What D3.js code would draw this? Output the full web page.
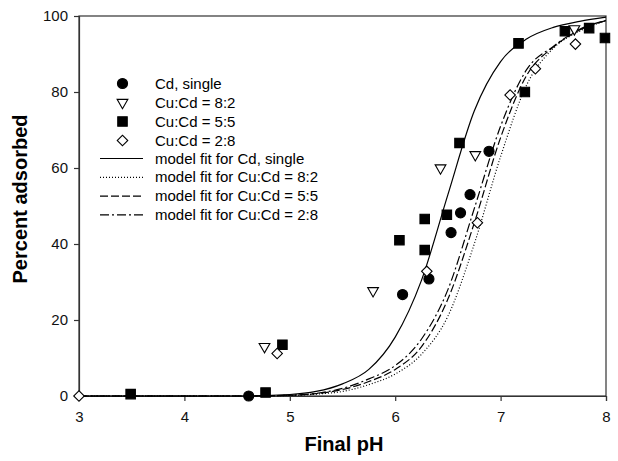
<!DOCTYPE html>
<html>
<head>
<meta charset="utf-8">
<script src="https://cdn.jsdelivr.net/npm/d3@7"></script>
<style>
  body { margin: 0; background: #fff; }
  text { font-family: "Liberation Sans", Arial, sans-serif; }
</style>
</head>
<body>
<script>
// measured points
const cdPH = [4.61, 6.07, 6.32, 6.53, 6.62, 6.71, 6.89];
const cdPct = [0, 26.7, 30.8, 43, 48.2, 53, 64.4];
const r82PH = [4.76, 5.79, 6.43, 6.76, 7.70];
const r82Pct = [13, 27.7, 60, 63.5, 96.6];
const r55PH = [3.49, 4.77, 4.93, 6.04, 6.28, 6.28, 6.49, 6.61, 7.17, 7.23, 7.61, 7.84, 7.99];
const r55Pct = [0.5, 0.9, 13.5, 41, 46.6, 38.4, 47.7, 66.6, 92.8, 80, 96, 96.8, 94.2];
const r28PH = [3.0, 4.88, 6.30, 6.78, 7.09, 7.33, 7.71];
const r28Pct = [0, 11.2, 32.8, 45.6, 79.2, 86.1, 92.6];

// model fits
const fitPH = [3.0, 4.5, 5.0, 5.25, 5.5, 5.75, 6.0, 6.25, 6.5, 6.75, 7.0, 7.25, 7.5, 7.75, 8.0];
const fitCd = [0, 0, 0.4, 1.2, 3.2, 7, 15.5, 30.5, 53, 75, 88, 94, 97, 98.6, 99.7];
const fit82 = [0, 0, 0.15, 0.5, 1.2, 3.0, 5.8, 11, 21, 40, 63, 82, 91.5, 96, 98.8];
const fit55 = [0, 0, 0.2, 0.6, 1.7, 3.8, 7, 13, 25.5, 45.5, 68, 84.5, 91.8, 96.3, 98.8];
const fit28 = [0, 0, 0.2, 0.7, 2.0, 4.5, 8, 15, 28, 49.3, 71, 86, 92, 96.5, 98.8];

const xTicks = [3, 4, 5, 6, 7, 8];
const yTicks = [0, 20, 40, 60, 80, 100];

const W = 618, H = 461;
const svg = d3.select("body").append("svg")
  .attr("width", W)
  .attr("height", H);

const x = d3.scaleLinear().domain([3, 8]).range([79, 606]);
const y = d3.scaleLinear().domain([0, 100]).range([396, 16]);

// frame
svg.append("rect")
  .attr("x", 79).attr("y", 16)
  .attr("width", 527).attr("height", 380)
  .style("fill", "none")
  .style("stroke", "#333")
  .style("stroke-width", 1.2);

const xAxis = svg.append("g")
  .attr("transform", "translate(0,396)")
  .call(d3.axisBottom(x).tickValues(xTicks).tickSize(5).tickPadding(10).tickFormat(d3.format("d")));
const yAxis = svg.append("g")
  .attr("transform", "translate(79,0)")
  .call(d3.axisLeft(y).tickValues(yTicks).tickSize(5).tickPadding(6).tickFormat(d3.format("d")));

[xAxis, yAxis].forEach(g => {
  g.select(".domain").style("stroke", "#333").style("stroke-width", 1.2);
  g.selectAll(".tick line").style("stroke", "#333").style("stroke-width", 1.2);
  g.selectAll(".tick text").style("font-size", "15px").style("fill", "#111")
    .style("font-family", "'Liberation Sans', Arial, sans-serif");
});

svg.append("text")
  .attr("x", 344).attr("y", 451)
  .attr("text-anchor", "middle")
  .style("font-size", "20px").style("font-weight", "bold")
  .text("Final pH");
svg.append("text")
  .attr("transform", "translate(27,199) rotate(-90)")
  .attr("text-anchor", "middle")
  .style("font-size", "20px").style("font-weight", "bold")
  .text("Percent adsorbed");

const fits = [
  { vals: fitCd, dash: null, label: "model fit for Cd, single" },
  { vals: fit82, dash: "1,2", label: "model fit for Cu:Cd = 8:2" },
  { vals: fit55, dash: "8,3", label: "model fit for Cu:Cd = 5:5" },
  { vals: fit28, dash: "9,3,2,3", label: "model fit for Cu:Cd = 2:8" },
];

const line = d3.line()
  .x(d => x(d[0]))
  .y(d => y(d[1]))
  .curve(d3.curveMonotoneX);

svg.selectAll("path.fit")
  .data(fits)
  .enter()
  .append("path")
  .attr("class", "fit")
  .attr("d", f => line(fitPH.map((p, i) => [p, f.vals[i]])))
  .style("fill", "none")
  .style("stroke", "#000")
  .style("stroke-width", 1.2)
  .style("stroke-dasharray", f => f.dash);

const series = [
  { ph: cdPH, pct: cdPct, type: d3.symbolCircle, size: 80, fill: "#000", rot: 0, label: "Cd, single" },
  { ph: r82PH, pct: r82Pct, type: d3.symbolTriangle, size: 50, fill: "#fff", rot: 180, label: "Cu:Cd = 8:2" },
  { ph: r55PH, pct: r55Pct, type: d3.symbolSquare, size: 90, fill: "#000", rot: 0, label: "Cu:Cd = 5:5" },
  { ph: r28PH, pct: r28Pct, type: d3.symbolSquare, size: 55, fill: "#fff", rot: 45, label: "Cu:Cd = 2:8" },
];

series.forEach(s => {
  svg.append("g").selectAll("path")
    .data(s.ph.map((p, i) => [p, s.pct[i]]))
    .enter()
    .append("path")
    .attr("d", d3.symbol().type(s.type).size(s.size))
    .attr("transform", d => `translate(${x(d[0])},${y(d[1])}) rotate(${s.rot})`)
    .style("fill", s.fill)
    .style("stroke", "#000")
    .style("stroke-width", 1.1);
});

// legend
const leg = svg.append("g");
series.forEach((s, i) => {
  const ly = 83.5 + i * 19;
  leg.append("path")
    .attr("d", d3.symbol().type(s.type).size(s.size)())
    .attr("transform", `translate(122.5,${ly}) rotate(${s.rot})`)
    .style("fill", s.fill)
    .style("stroke", "#000")
    .style("stroke-width", 1.1);
  leg.append("text")
    .attr("x", 155).attr("y", ly + 5)
    .style("font-size", "15px")
    .text(s.label);
});
fits.forEach((f, i) => {
  const ly = 158.5 + i * 18.8;
  leg.append("line")
    .attr("x1", 100).attr("x2", 143)
    .attr("y1", ly).attr("y2", ly)
    .style("stroke", "#000")
    .style("stroke-width", 1.2)
    .style("stroke-dasharray", f.dash);
  leg.append("text")
    .attr("x", 155).attr("y", ly + 5)
    .style("font-size", "15px")
    .text(f.label);
});
</script>
</body>
</html>
